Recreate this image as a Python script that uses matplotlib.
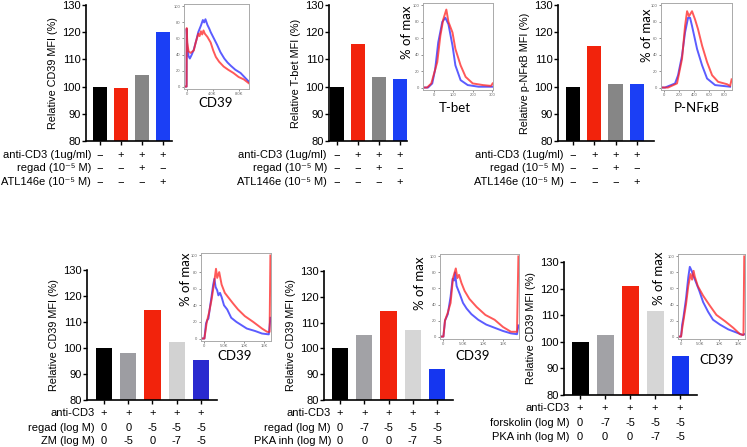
import numpy as np
import matplotlib
matplotlib.use("Agg")
import matplotlib.pyplot as plt
from matplotlib.transforms import blended_transform_factory

plt.rcParams['font.family'] = ['Liberation Sans', 'DejaVu Sans']

W, H = 747, 447

# ---- bar values (relative MFI, %) ----
cd39_atl = [100, 99.5, 104.3, 120.2]
tbet_atl = [100, 115.8, 103.6, 102.7]
nfkb_atl = [100, 115.1, 101.0, 101.0]
cd39_zm = [100, 98.0, 114.5, 102.3, 95.5]
cd39_pka = [100, 105.2, 114.5, 107.0, 92.0]
cd39_fsk = [100, 102.6, 121.0, 111.5, 94.8]

top_colors = ['#000000', '#f2230c', '#868686', '#1b3ff5']
zm_colors = ['#000000', '#9d9da2', '#f2230c', '#d2d2d2', '#2a2acf']
pka_colors = ['#000000', '#a2a2a6', '#f2230c', '#d6d6d6', '#1536f0']

# ---- condition tables under the bars ----
top_rows = ['anti-CD3 (1ug/ml)', 'regad (10⁻⁵ M)', 'ATL146e (10⁻⁵ M)']
top_marks = [['−', '+', '+', '+'],
             ['−', '−', '+', '−'],
             ['−', '−', '−', '+']]
zm_rows = ['anti-CD3', 'regad (log M)', 'ZM (log M)']
zm_marks = [['+', '+', '+', '+', '+'],
            ['0', '0', '-5', '-5', '-5'],
            ['0', '-5', '0', '-7', '-5']]
pka_rows = ['anti-CD3', 'regad (log M)', 'PKA inh (log M)']
pka_marks = [['+', '+', '+', '+', '+'],
             ['0', '-7', '-5', '-5', '-5'],
             ['0', '0', '0', '-7', '-5']]
fsk_rows = ['anti-CD3', 'forskolin (log M)', 'PKA inh (log M)']
fsk_marks = pka_marks

# ---- inset histograms (% of max), read off the overlays ----
# top CD39 (x in K)
h1_blue_x = [-0.4, 0.0, 0.02, 0.1, 0.3, 0.5, 0.8, 1.1, 1.5, 1.8, 2.2, 2.5, 2.7, 2.9, 3.2, 3.5,
             3.7, 4.2, 4.7, 5.2, 5.8, 6.3, 6.8, 7.5, 8.3, 9.0, 9.6]
h1_blue_y = [0, 0, 72, 50, 38, 35, 40, 46, 58, 68, 76, 83, 80, 84, 77, 72,
             68, 60, 52, 43, 35, 30, 26, 21, 17, 11, 6]
h1_red_x = [-0.4, 0.0, 0.02, 0.1, 0.3, 0.6, 1.1, 1.4, 1.8, 2.0, 2.2, 2.4, 2.6, 2.8, 3.2, 3.7,
            4.1, 4.5, 5.0, 5.7, 6.4, 7.2, 8.0, 8.8, 9.6]
h1_red_y = [0, 0, 73, 55, 44, 42, 45, 55, 66, 63, 69, 65, 70, 66, 62, 55,
            45, 37, 31, 25, 21, 17, 12, 9, 4]
# T-bet
h2_blue_x = [-58, -32, -10, 5, 21, 42, 58, 74, 95, 110, 137, 174, 230, 300]
h2_blue_y = [0, 0, 5, 22, 55, 80, 85, 77, 51, 27, 9, 3, 1, 1]
h2_red_x = [-58, -37, -15, 16, 32, 47, 63, 74, 95, 110, 137, 163, 200, 253, 295, 303]
h2_red_y = [0, 0, 5, 31, 63, 83, 95, 80, 67, 47, 27, 13, 5, 3, 2, 5]
# P-NFkB
h3_blue_x = [-40, 13, 147, 187, 240, 280, 320, 347, 373, 440, 507, 573, 680, 880]
h3_blue_y = [0, 0, 5, 15, 39, 67, 85, 85, 75, 47, 27, 11, 3, 1]
h3_red_x = [-40, 53, 173, 240, 280, 307, 333, 373, 413, 453, 507, 573, 640, 720, 840, 880, 900]
h3_red_y = [0, 0, 5, 35, 75, 93, 87, 93, 83, 71, 51, 31, 15, 7, 4, 2, 10]
# bottom CD39, ZM panel (x in K)
h4_blue_x = [-0.75, 0.1, 0.5, 0.8, 1.1, 1.5, 1.9, 2.3, 2.6, 2.9, 3.3, 3.6, 4.0, 4.4, 5.0, 5.8,
             6.8, 8.1, 9.4, 10.7, 12.8, 14.5, 16.2, 16.6]
h4_blue_y = [0, 0, 18, 22, 24, 38, 51, 65, 72, 62, 58, 52, 55, 50, 40, 35,
             25, 20, 16, 12, 9, 6, 5, 25]
h4_red_x = [-0.75, 0.1, 0.7, 1.3, 1.9, 2.5, 3.0, 3.3, 3.8, 4.4, 5.2, 6.0, 7.3, 8.5, 10.2,
            12.3, 14.5, 15.8, 16.4, 16.6]
h4_red_y = [0, 0, 20, 32, 47, 66, 84, 73, 80, 65, 55, 50, 42, 35, 27, 20, 12, 8, 8, 100]
# bottom CD39, PKA panel
h5_blue_x = [-0.75, 0.1, 0.5, 1.2, 1.9, 2.4, 2.8, 3.0, 3.4, 4.2, 5.0, 5.9, 7.1, 8.8, 10.8,
             12.9, 15.0, 17.0, 18.5, 18.85]
h5_blue_y = [0, 0, 20, 28, 50, 72, 70, 80, 63, 53, 42, 35, 28, 21, 15, 11, 7, 4, 3, 14]
h5_red_x = [-0.75, 0.1, 0.5, 1.2, 1.9, 2.5, 3.2, 3.6, 4.0, 4.6, 5.4, 6.6, 8.4, 10.6, 12.9,
            15.0, 17.0, 18.5, 18.85]
h5_red_y = [0, 0, 20, 30, 42, 73, 85, 73, 77, 67, 57, 47, 37, 27, 21, 12, 6, 6, 100]
# bottom CD39, forskolin panel
h6_blue_x = [-0.8, 0.0, 0.3, 0.6, 1.3, 1.9, 2.3, 2.8, 3.2, 3.9, 4.8, 5.8, 7.1, 8.4, 10.2,
             12.4, 14.6, 16.2, 16.7]
h6_blue_y = [0, 0, 15, 23, 47, 74, 87, 82, 76, 68, 57, 43, 31, 21, 15, 9, 5, 2, 3]
h6_red_x = [-0.8, 0.0, 0.3, 1.3, 1.9, 2.5, 2.9, 3.3, 3.6, 4.4, 5.8, 7.5, 9.3, 11.6, 13.7,
            15.5, 16.4, 16.6]
h6_red_y = [0, 0, 10, 40, 63, 78, 71, 82, 75, 63, 51, 39, 27, 19, 11, 3, 2, 100]

fig = plt.figure(figsize=(W / 100, H / 100), dpi=100)


def px_axes(left, top, right, bottom):
    return fig.add_axes([left / W, 1 - bottom / H, (right - left) / W, (bottom - top) / H])


def ftext(x, y, s, **kw):
    fig.text(x / W, 1 - y / H, s, **kw)


def bar_panel(box, values, colors, xlim, width, ylabel, rows, marks, row_y, label_x):
    ax = px_axes(*box)
    x = np.arange(len(values))
    ax.bar(x, values, width=width, color=colors, linewidth=0)
    ax.set_ylim(80, 130)
    ax.set_xlim(*xlim)
    ax.set_yticks([80, 90, 100, 110, 120, 130])
    ax.set_xticks(x)
    ax.set_xticklabels([])
    for s in ['top', 'right']:
        ax.spines[s].set_visible(False)
    for s in ['left', 'bottom']:
        ax.spines[s].set_linewidth(1.2)
    ax.tick_params(direction='out', length=3, width=1, labelsize=8, pad=1)
    ax.set_ylabel(ylabel, fontsize=7.8, labelpad=3)
    trans = blended_transform_factory(ax.transData, fig.transFigure)
    for r, (lab, row) in enumerate(zip(rows, marks)):
        yy = 1 - row_y[r] / H
        ax.text(label_x, yy, lab, transform=trans, ha='right', va='center', fontsize=8)
        for i, m in enumerate(row):
            ax.text(i, yy, m, transform=trans, ha='center', va='center', fontsize=8)
    return ax


def hist_inset(box, xlim, xticks, xticklabels, bx, by, rx, ry):
    ax = px_axes(*box)
    ax.plot(bx, by, color='#2626ff', lw=1.4, alpha=0.75, solid_joinstyle='round')
    ax.plot(rx, ry, color='#ff2222', lw=1.4, alpha=0.75, solid_joinstyle='round')
    ax.set_xlim(*xlim)
    ax.set_ylim(-3, 103)
    ax.set_xticks(xticks)
    ax.set_xticklabels(xticklabels)
    ax.set_yticks([0, 20, 40, 60, 80, 100])
    ax.tick_params(length=1.5, width=0.5, labelsize=3, pad=1, colors='#666666')
    for s in ax.spines.values():
        s.set_color('#aaaaaa')
        s.set_linewidth(0.7)
    return ax


lab_font = dict(family=['Lato', 'DejaVu Sans'], fontsize=9.5)

# ---- top row ----
bar_panel((86, 5, 172, 141), cd39_atl, top_colors, (-0.67, 3.43), 0.67,
          'Relative CD39 MFI (%)', top_rows, top_marks, [155, 168, 182], -0.43)
bar_panel((329, 5, 407, 141), tbet_atl, top_colors, (-0.38, 3.33), 0.7,
          'Relative T-bet MFI (%)', top_rows, top_marks, [155, 168, 182], -0.48)
bar_panel((558, 5, 654, 141), nfkb_atl, top_colors, (-0.7, 3.8), 0.67,
          'Relative p-NFκB MFI (%)', top_rows, top_marks, [155, 168, 182], -0.42)

hist_inset((184, 4, 249, 89), (-0.4, 9.6), [0, 4, 8], ['0', '4.0K', '8.0K'],
           h1_blue_x, h1_blue_y, h1_red_x, h1_red_y)
ftext(216, 103, 'CD39', ha='center', va='center', **lab_font)

hist_inset((423, 3, 493, 90), (-58, 305), [0, 100, 200, 300], ['0', '100', '200', '300'],
           h2_blue_x, h2_blue_y, h2_red_x, h2_red_y)
ftext(455, 108, 'T-bet', ha='center', va='center', **lab_font)
ftext(407, 32, '% of max', ha='center', va='center', rotation=90, **lab_font)

hist_inset((661, 3, 732, 90), (-40, 905), [0, 200, 400, 600, 800],
           ['0', '200', '400', '600', '800'],
           h3_blue_x, h3_blue_y, h3_red_x, h3_red_y)
ftext(697, 108, 'P-NFκB', ha='center', va='center', **lab_font)
ftext(647, 35, '% of max', ha='center', va='center', rotation=90, **lab_font)

# ---- bottom row ----
bar_panel((87, 270, 217, 400), cd39_zm, zm_colors, (-0.7, 4.66), 0.67,
          'Relative CD39 MFI (%)', zm_rows, zm_marks, [413, 428, 441], -0.38)
bar_panel((324, 271, 453, 400), cd39_pka, pka_colors, (-0.66, 4.66), 0.68,
          'Relative CD39 MFI (%)', pka_rows, pka_marks, [413, 428, 441], -0.37)
bar_panel((564, 262, 697, 395), cd39_fsk, pka_colors, (-0.64, 4.68), 0.68,
          'Relative CD39 MFI (%)', fsk_rows, fsk_marks, [408, 423, 437], -0.4)

k_ticks = [0, 5, 10, 15]
k_labels = ['0', '5.0K', '10K', '15K']
hist_inset((201, 253, 271, 341), (-0.75, 16.75), k_ticks, k_labels,
           h4_blue_x, h4_blue_y, h4_red_x, h4_red_y)
ftext(217, 356, 'CD39', ha='left', va='center', **lab_font)
ftext(186, 279, '% of max', ha='center', va='center', rotation=90, **lab_font)

hist_inset((440, 254, 519, 339), (-0.75, 19.0), k_ticks, k_labels,
           h5_blue_x, h5_blue_y, h5_red_x, h5_red_y)
ftext(455, 356, 'CD39', ha='left', va='center', **lab_font)
ftext(420, 283, '% of max', ha='center', va='center', rotation=90, **lab_font)

hist_inset((678, 254, 745, 339), (-0.8, 16.8), k_ticks, k_labels,
           h6_blue_x, h6_blue_y, h6_red_x, h6_red_y)
ftext(699, 360, 'CD39', ha='left', va='center', **lab_font)
ftext(659, 278, '% of max', ha='center', va='center', rotation=90, **lab_font)

fig.savefig('out.png', dpi=100)
